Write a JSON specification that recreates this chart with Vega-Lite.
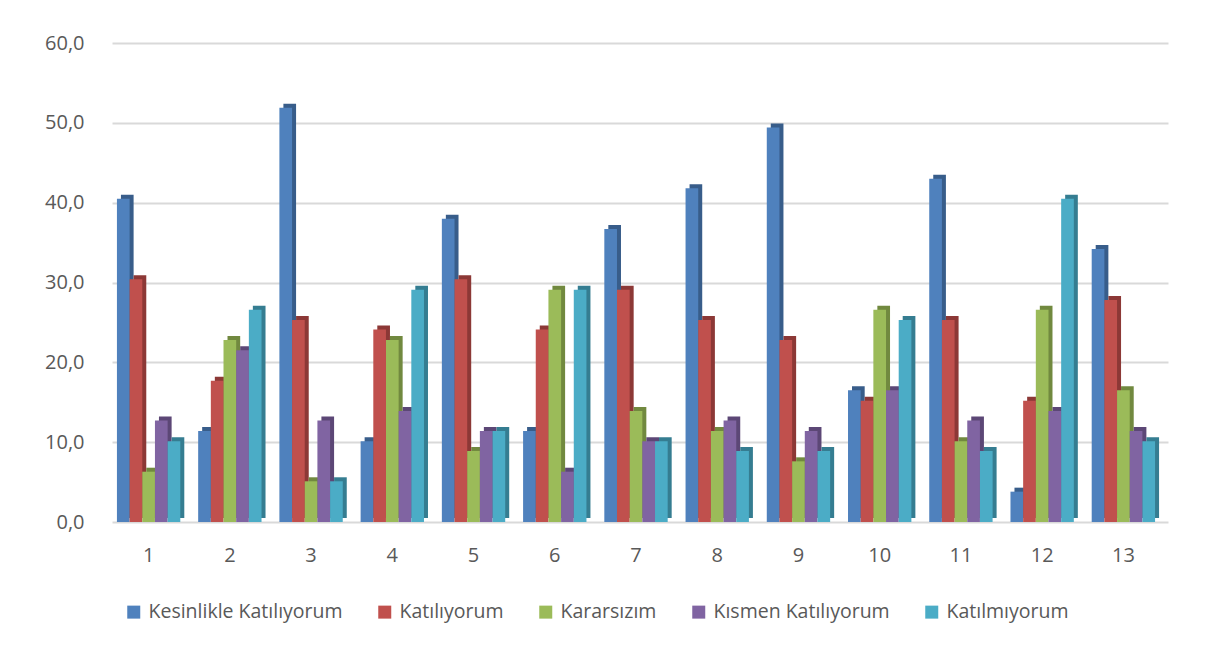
{
  "$schema": "https://vega.github.io/schema/vega-lite/v6.json",
  "autosize": {"type": "none"},
  "width": 1056,
  "height": 479,
  "padding": {"left": 108, "top": 43, "right": 55, "bottom": 126},
  "background": "white",
  "config": {
    "font": "Open Sans",
    "view": {"stroke": null},
    "axis": {"labelFont": "Open Sans", "labelColor": "#595959", "labelFontSize": 20}
  },
  "data": {
    "values": [
      {"g": 1, "c": "Kesinlikle Katılıyorum", "v": 40.5},
      {"g": 1, "c": "Katılıyorum", "v": 30.4},
      {"g": 1, "c": "Kararsızım", "v": 6.3},
      {"g": 1, "c": "Kısmen Katılıyorum", "v": 12.7},
      {"g": 1, "c": "Katılmıyorum", "v": 10.1},
      {"g": 2, "c": "Kesinlikle Katılıyorum", "v": 11.4},
      {"g": 2, "c": "Katılıyorum", "v": 17.7},
      {"g": 2, "c": "Kararsızım", "v": 22.8},
      {"g": 2, "c": "Kısmen Katılıyorum", "v": 21.5},
      {"g": 2, "c": "Katılmıyorum", "v": 26.6},
      {"g": 3, "c": "Kesinlikle Katılıyorum", "v": 51.9},
      {"g": 3, "c": "Katılıyorum", "v": 25.3},
      {"g": 3, "c": "Kararsızım", "v": 5.1},
      {"g": 3, "c": "Kısmen Katılıyorum", "v": 12.7},
      {"g": 3, "c": "Katılmıyorum", "v": 5.1},
      {"g": 4, "c": "Kesinlikle Katılıyorum", "v": 10.1},
      {"g": 4, "c": "Katılıyorum", "v": 24.1},
      {"g": 4, "c": "Kararsızım", "v": 22.8},
      {"g": 4, "c": "Kısmen Katılıyorum", "v": 13.9},
      {"g": 4, "c": "Katılmıyorum", "v": 29.1},
      {"g": 5, "c": "Kesinlikle Katılıyorum", "v": 38.0},
      {"g": 5, "c": "Katılıyorum", "v": 30.4},
      {"g": 5, "c": "Kararsızım", "v": 8.9},
      {"g": 5, "c": "Kısmen Katılıyorum", "v": 11.4},
      {"g": 5, "c": "Katılmıyorum", "v": 11.4},
      {"g": 6, "c": "Kesinlikle Katılıyorum", "v": 11.4},
      {"g": 6, "c": "Katılıyorum", "v": 24.1},
      {"g": 6, "c": "Kararsızım", "v": 29.1},
      {"g": 6, "c": "Kısmen Katılıyorum", "v": 6.3},
      {"g": 6, "c": "Katılmıyorum", "v": 29.1},
      {"g": 7, "c": "Kesinlikle Katılıyorum", "v": 36.7},
      {"g": 7, "c": "Katılıyorum", "v": 29.1},
      {"g": 7, "c": "Kararsızım", "v": 13.9},
      {"g": 7, "c": "Kısmen Katılıyorum", "v": 10.1},
      {"g": 7, "c": "Katılmıyorum", "v": 10.1},
      {"g": 8, "c": "Kesinlikle Katılıyorum", "v": 41.8},
      {"g": 8, "c": "Katılıyorum", "v": 25.3},
      {"g": 8, "c": "Kararsızım", "v": 11.4},
      {"g": 8, "c": "Kısmen Katılıyorum", "v": 12.7},
      {"g": 8, "c": "Katılmıyorum", "v": 8.9},
      {"g": 9, "c": "Kesinlikle Katılıyorum", "v": 49.4},
      {"g": 9, "c": "Katılıyorum", "v": 22.8},
      {"g": 9, "c": "Kararsızım", "v": 7.6},
      {"g": 9, "c": "Kısmen Katılıyorum", "v": 11.4},
      {"g": 9, "c": "Katılmıyorum", "v": 8.9},
      {"g": 10, "c": "Kesinlikle Katılıyorum", "v": 16.5},
      {"g": 10, "c": "Katılıyorum", "v": 15.2},
      {"g": 10, "c": "Kararsızım", "v": 26.6},
      {"g": 10, "c": "Kısmen Katılıyorum", "v": 16.5},
      {"g": 10, "c": "Katılmıyorum", "v": 25.3},
      {"g": 11, "c": "Kesinlikle Katılıyorum", "v": 43.0},
      {"g": 11, "c": "Katılıyorum", "v": 25.3},
      {"g": 11, "c": "Kararsızım", "v": 10.1},
      {"g": 11, "c": "Kısmen Katılıyorum", "v": 12.7},
      {"g": 11, "c": "Katılmıyorum", "v": 8.9},
      {"g": 12, "c": "Kesinlikle Katılıyorum", "v": 3.8},
      {"g": 12, "c": "Katılıyorum", "v": 15.2},
      {"g": 12, "c": "Kararsızım", "v": 26.6},
      {"g": 12, "c": "Kısmen Katılıyorum", "v": 13.9},
      {"g": 12, "c": "Katılmıyorum", "v": 40.5},
      {"g": 13, "c": "Kesinlikle Katılıyorum", "v": 34.2},
      {"g": 13, "c": "Katılıyorum", "v": 27.8},
      {"g": 13, "c": "Kararsızım", "v": 16.5},
      {"g": 13, "c": "Kısmen Katılıyorum", "v": 11.4},
      {"g": 13, "c": "Katılmıyorum", "v": 10.1}
    ]
  },
  "encoding": {
    "xOffset": {
      "field": "c", "type": "nominal",
      "sort": ["Kesinlikle Katılıyorum", "Katılıyorum", "Kararsızım", "Kısmen Katılıyorum", "Katılmıyorum"],
      "scale": {"paddingInner": 0, "paddingOuter": 0}
    },
    "y": {
      "field": "v", "type": "quantitative", "title": null,
      "scale": {"domain": [0, 60], "nice": false},
      "axis": {
        "values": [0, 10, 20, 30, 40, 50, 60],
        "domain": false, "ticks": false, "labelPadding": 24,
        "gridColor": "#d9d9d9", "gridWidth": 2,
        "labelExpr": "replace(format(datum.value, '.1f'), '.', ',')"
      }
    }
  },
  "layer": [
    {
      "mark": {"type": "bar", "yOffset": -4},
      "encoding": {
        "x": {
          "field": "g", "type": "ordinal", "title": null,
          "scale": {"paddingInner": 0.22, "paddingOuter": 0.11, "range": [4, 1060]},
          "axis": null
        },
        "color": {
          "field": "c", "type": "nominal", "legend": null,
          "scale": {
            "domain": ["Kesinlikle Katılıyorum", "Katılıyorum", "Kararsızım", "Kısmen Katılıyorum", "Katılmıyorum"],
            "range": ["#385d8a", "#8c3836", "#71893f", "#5c4776", "#357d91"]
          }
        }
      }
    },
    {
      "mark": {"type": "bar"},
      "encoding": {
        "x": {
          "field": "g", "type": "ordinal", "title": null,
          "scale": {"paddingInner": 0.22, "paddingOuter": 0.11},
          "axis": {"labelAngle": 0, "domain": false, "ticks": false, "labelPadding": 23, "grid": false}
        },
        "color": {
          "field": "c", "type": "nominal",
          "scale": {
            "domain": ["Kesinlikle Katılıyorum", "Katılıyorum", "Kararsızım", "Kısmen Katılıyorum", "Katılmıyorum"],
            "range": ["#4f81bd", "#c0504d", "#9bbb59", "#8064a2", "#4bacc6"]
          },
          "legend": {
            "title": null, "orient": "none", "direction": "horizontal",
            "legendX": 16, "legendY": 559, "padding": 0,
            "symbolType": "square", "symbolSize": 169, "symbolStrokeWidth": 0,
            "labelFont": "Open Sans", "labelFontSize": 19.5, "labelColor": "#595959",
            "labelOffset": 5, "columnPadding": 32, "labelLimit": 400
          }
        }
      }
    }
  ],
  "resolve": {"scale": {"color": "independent", "x": "independent"}}
}
